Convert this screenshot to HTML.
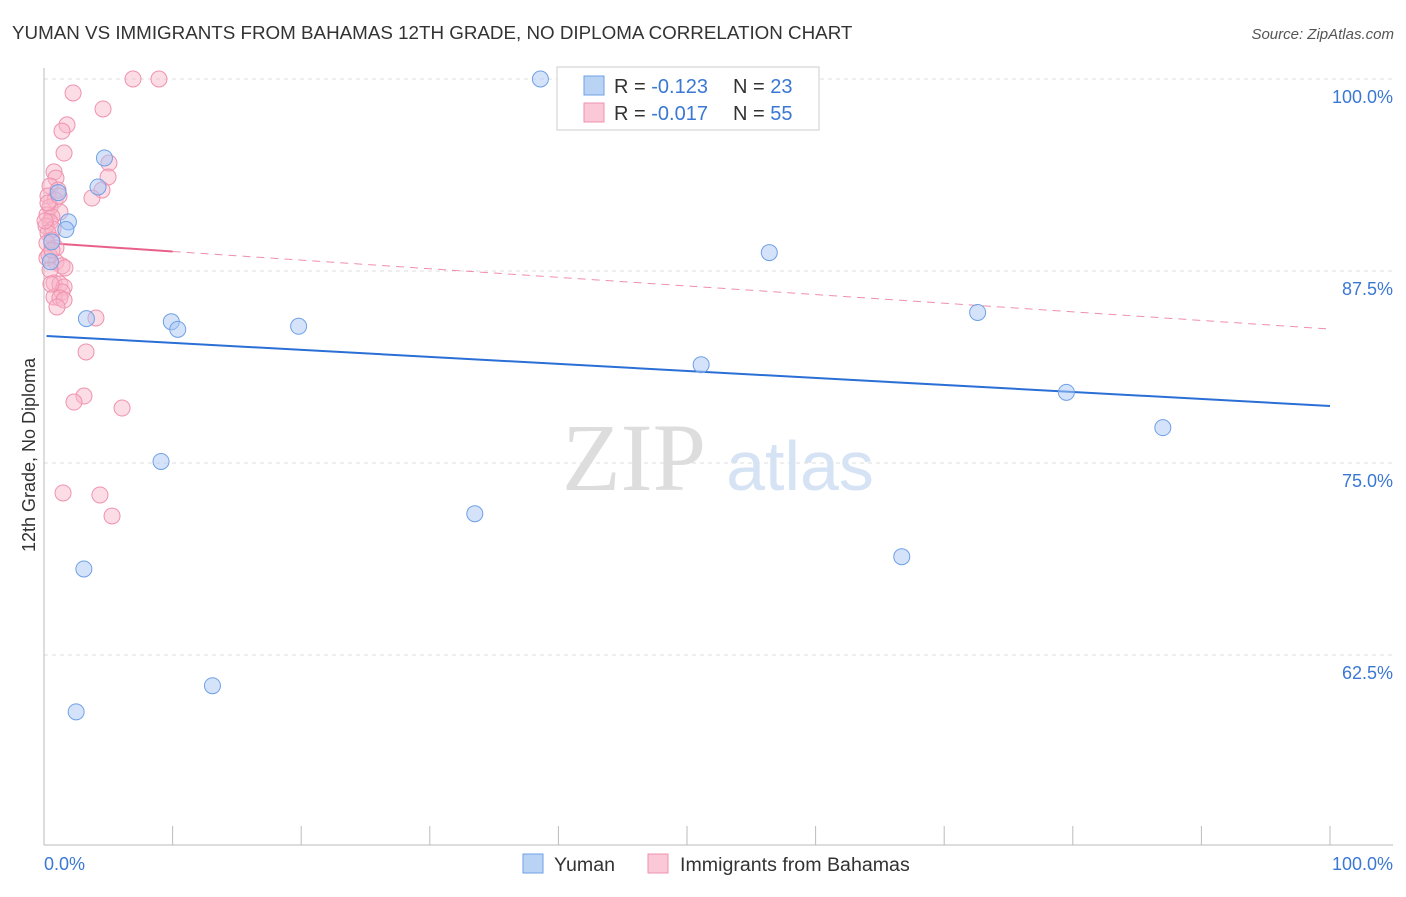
<!DOCTYPE html>
<html><head><meta charset="utf-8">
<style>
body{margin:0;background:#fff;font-family:"Liberation Sans",sans-serif;}
svg text{font-family:"Liberation Sans",sans-serif;}
</style></head>
<body>
<svg id="chart" width="1406" height="892" viewBox="0 0 1406 892" xmlns="http://www.w3.org/2000/svg">
<text x="12" y="39" font-size="18.8" fill="#333">YUMAN VS IMMIGRANTS FROM BAHAMAS 12TH GRADE, NO DIPLOMA CORRELATION CHART</text>
<text x="1394" y="39" font-size="15" fill="#555" font-style="italic" text-anchor="end">Source: ZipAtlas.com</text>
<g id="grid"></g>
<g>
<text x="634" y="490" font-size="96" fill="#ddd" text-anchor="middle" font-family="Liberation Serif" style="font-family:'Liberation Serif',serif">ZIP</text>
<text x="800" y="490" font-size="70" fill="#d5e3f5" text-anchor="middle">atlas</text>
</g>
<line x1="44" y1="68" x2="44" y2="845" stroke="#bbb"/>
<line x1="44" y1="845" x2="1393" y2="845" stroke="#bbb"/>
<g id="ticks"></g>
<g id="ylabels"></g>
<text x="44" y="870" font-size="18" fill="#3a78d4">0.0%</text>
<text x="1393" y="870" font-size="18" fill="#3a78d4" text-anchor="end">100.0%</text>
<text transform="translate(35,455) rotate(-90)" font-size="18" fill="#333" text-anchor="middle">12th Grade, No Diploma</text>
<g id="lines"></g>
<g id="pts"></g>
<g>
<rect x="557" y="67" width="262" height="63" fill="#fff" stroke="#ccc"/>
<rect x="584" y="76" width="20" height="19" fill="#b9d3f5" stroke="#6fa0e6"/>
<rect x="584" y="103" width="20" height="19" fill="#fac8d6" stroke="#ef92ae"/>
<text x="614" y="93" font-size="20" fill="#333">R = <tspan fill="#3a78d4">-0.123</tspan><tspan x="733">N = </tspan><tspan fill="#3a78d4">23</tspan></text>
<text x="614" y="120" font-size="20" fill="#333">R = <tspan fill="#3a78d4">-0.017</tspan><tspan x="733">N = </tspan><tspan fill="#3a78d4">55</tspan></text>
</g>
<g>
<rect x="523" y="854" width="20" height="19" fill="#b9d3f5" stroke="#6fa0e6"/>
<text x="554" y="871" font-size="19.6" fill="#333">Yuman</text>
<rect x="648" y="854" width="20" height="19" fill="#fac8d6" stroke="#ef92ae"/>
<text x="680" y="871" font-size="19.6" fill="#333">Immigrants from Bahamas</text>
</g>
</svg>
<script>
const yTicks=[100,87.5,75,62.5];
const yTickLabels=["100.0%","87.5%","75.0%","62.5%"];
const xTicks=[0,10,20,30,40,50,60,70,80,90,100];
const yumanX=[38.6,4.7,4.2,1.1,1.9,1.7,0.6,0.5,56.4,3.3,9.9,10.4,19.8,72.6,51.1,79.5,87.0,9.1,33.5,3.1,66.7,13.1,2.5];
const yumanY=[100,94.86,92.97,92.6,90.7,90.2,89.4,88.1,88.7,84.4,84.2,83.7,83.9,84.8,81.4,79.6,77.3,75.1,71.7,68.1,68.9,60.5,58.8];
const bahamasPxX=[133,159,73,103,67,62,64,109,54,56,108,50,58,102,92,48,55,50,60,47,52,50,46,53,48,52,56,47,56,62,65,50,54,60,64,62,54,60,64,57,96,86,84,74,122,63,100,112,47,49,51,48,45,59,52];
const bahamasPxY=[79,79,93,109,125,131,153,163,172,178,177,186,190,190,198,196,200,207,212,215,217,222,226,229,233,240,248,258,262,266,268,270,283,284,287,292,297,298,300,307,318,352,396,402,408,493,495,516,243,255,284,203,221,196,250];
const bahamasX=bahamasPxX.map(p=>+((p-44)/12.86).toFixed(2));
const bahamasY=bahamasPxY.map(p=>+(100-(p-79)*12.5/192).toFixed(2));
const yumanTrend=[83.27,78.71];
const bahamasTrend=[89.32,83.72];

const X=v=>44+v*12.86;
const Y=v=>79+(100-v)*192/12.5;
const NS="http://www.w3.org/2000/svg";
function mk(t,a,parent){const e=document.createElementNS(NS,t);for(const k in a)e.setAttribute(k,a[k]);document.getElementById(parent).appendChild(e);return e;}
yTicks.forEach((t,i)=>{
 const l=mk('line',{x1:44,x2:1393,y1:Y(t),y2:Y(t),stroke:'#ddd','stroke-dasharray':'4,4'},'grid');
 
 
 const tx=mk('text',{x:1393,y:Y(t)+24,'font-size':18,fill:'#3a78d4','text-anchor':'end'},'ylabels');
 tx.textContent=yTickLabels[i];
 
 
});
xTicks.forEach(t=>{
 const l=mk('line',{x1:X(t),x2:X(t),y1:826,y2:845,stroke:'#bbb'},'ticks');
 
 
});
let l=mk('line',{x1:X(0.2),y1:Y(yumanTrend[0]),x2:X(100),y2:Y(yumanTrend[1]),stroke:'#2a6fd6','stroke-width':2},'lines');


const bt=v=>bahamasTrend[0]+(bahamasTrend[1]-bahamasTrend[0])*(v-0.2)/99.8;
l=mk('line',{x1:X(0.2),y1:Y(bt(0.2)),x2:X(10),y2:Y(bt(10)),stroke:'#e8608a','stroke-width':2},'lines');


l=mk('line',{x1:X(10),y1:Y(bt(10)),x2:X(100),y2:Y(bt(100)),stroke:'#e8608a','stroke-width':1,'stroke-dasharray':'8,6',opacity:0.7},'lines');


bahamasX.forEach((x,i)=>{
 const c=mk('circle',{cx:X(x),cy:Y(bahamasY[i]),r:8,fill:'rgba(248,180,200,0.45)',stroke:'#ef92ae','stroke-width':1},'pts');
 
 
});
yumanX.forEach((x,i)=>{
 const c=mk('circle',{cx:X(x),cy:Y(yumanY[i]),r:8,fill:'rgba(170,200,245,0.5)',stroke:'#6fa0e6','stroke-width':1},'pts');
 
 
});
</script>
</body></html>
